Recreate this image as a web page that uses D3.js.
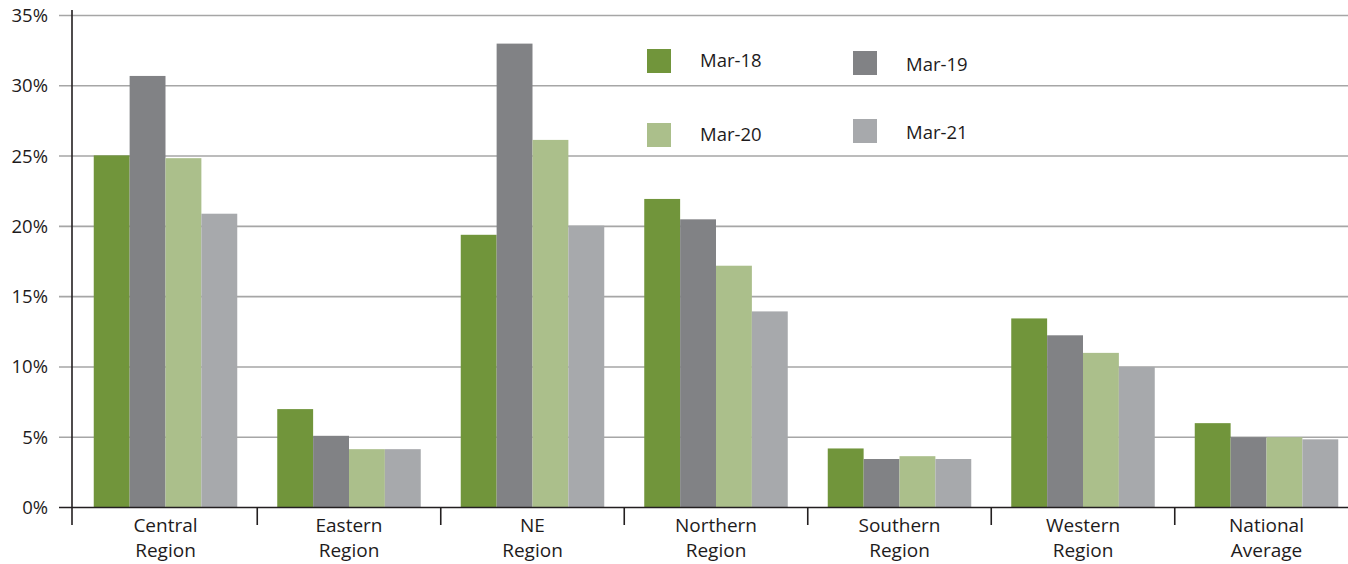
<!DOCTYPE html>
<html><head><meta charset="utf-8">
<script src="https://cdn.jsdelivr.net/npm/d3@7"></script>
<style>body{margin:0;background:#fff}svg{display:block}text{font-family:"Open Sans",sans-serif;fill:#1e1b1c}</style>
</head><body>
<script>
const categories = [["Central","Region"],["Eastern","Region"],["NE","Region"],["Northern","Region"],["Southern","Region"],["Western","Region"],["National","Average"]];
const seriesNames = ["Mar-18","Mar-19","Mar-20","Mar-21"];
const mar18 = [25.05, 7.0, 19.4, 21.95, 4.2, 13.45, 6.0];
const mar19 = [30.7, 5.1, 33.0, 20.5, 3.45, 12.25, 5.0];
const mar20 = [24.85, 4.15, 26.15, 17.2, 3.65, 11.0, 5.0];
const mar21 = [20.9, 4.15, 20.05, 13.95, 3.45, 10.0, 4.85];
const yTicks = [0,5,10,15,20,25,30,35];
const colors = ["#71953b","#818285","#abbf8b","#a7a9ac"];

const W=1348,H=564;
const svg=d3.select("body").append("svg").attr("width",W).attr("height",H);
const catIdx = categories.map((d,i)=>i);
const x = d3.scaleBand().domain(catIdx).range([73.75,1358.25]).paddingInner(0).paddingOuter(0);
const inner = d3.scaleBand().domain(seriesNames).range([20,x.bandwidth()-20]);
const y = d3.scaleLinear().domain([0,35]).range([507.5,15.5]);

// gridlines
svg.append("g").selectAll("line").data(yTicks.filter(t=>t>0)).join("line")
 .attr("x1",59).attr("x2",W).attr("y1",d=>y(d)).attr("y2",d=>y(d))
 .attr("stroke","#a6a6a6").attr("stroke-width",1.6);

// y labels
svg.append("g").selectAll("text").data(yTicks).join("text")
 .attr("x",48).attr("y",d=>y(d)+6.5).attr("text-anchor","end").attr("font-size",18.5)
 .text(d=>d+"%");

// bars
const data=[mar18,mar19,mar20,mar21];
seriesNames.forEach((s,si)=>{
  svg.append("g").selectAll("rect").data(data[si]).join("rect")
   .attr("x",(d,i)=>x(i)+inner(s)).attr("width",inner.bandwidth())
   .attr("y",d=>y(d)).attr("height",d=>y(0)-y(d)).attr("fill",colors[si]);
});

// axes lines
svg.append("line").attr("x1",59).attr("x2",W).attr("y1",y(0)).attr("y2",y(0)).attr("stroke","#231f20").attr("stroke-width",1.6);
svg.append("line").attr("x1",72).attr("x2",72).attr("y1",10).attr("y2",525).attr("stroke","#231f20").attr("stroke-width",1.6);
svg.append("g").selectAll("line").data(catIdx.slice(1)).join("line")
 .attr("x1",d=>x(d)).attr("x2",d=>x(d)).attr("y1",y(0)).attr("y2",525)
 .attr("stroke","#231f20").attr("stroke-width",1.6);

// x labels
const xl = svg.append("g").selectAll("text").data(categories).join("text")
 .attr("text-anchor","middle").attr("font-size",19);
xl.each(function(d,i){
  const t=d3.select(this);
  d.forEach((line,li)=>t.append("tspan").attr("x",x(i)+x.bandwidth()/2).attr("y",532+li*25).text(line));
});

// legend
const leg=[{s:"Mar-18",sx:647,sy:49,tx:700,ty:67},{s:"Mar-19",sx:853,sy:51,tx:906,ty:71},
 {s:"Mar-20",sx:647,sy:123,tx:700,ty:141},{s:"Mar-21",sx:853,sy:119,tx:906,ty:139}];
leg.forEach((l,i)=>{
  svg.append("rect").attr("x",l.sx).attr("y",l.sy).attr("width",24).attr("height",24).attr("fill",colors[seriesNames.indexOf(l.s)]);
  svg.append("text").attr("x",l.tx).attr("y",l.ty).attr("font-size",18.5).text(l.s);
});
</script>
</body></html>
